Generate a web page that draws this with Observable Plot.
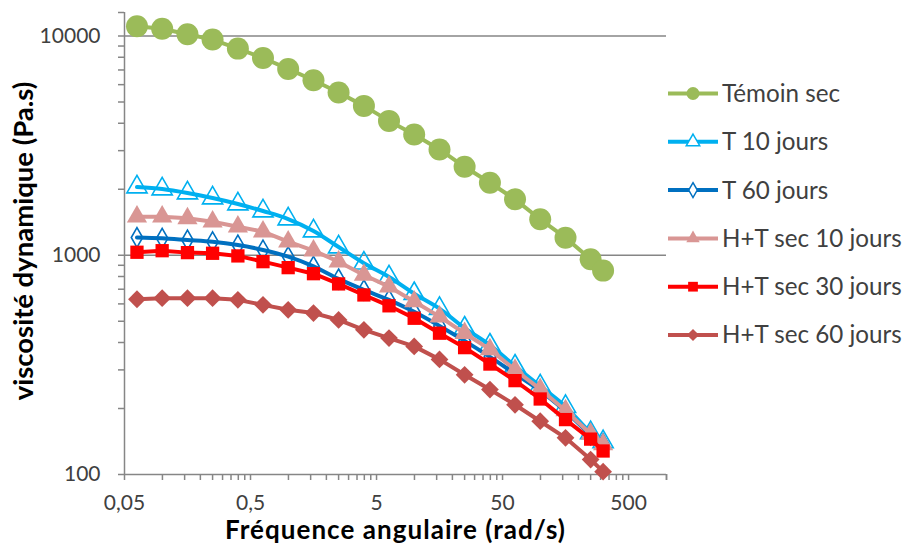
<!DOCTYPE html>
<html>
<head>
<meta charset="utf-8">
<script src="https://cdn.jsdelivr.net/npm/d3@7"></script>
<script src="https://cdn.jsdelivr.net/npm/@observablehq/plot@0.6"></script>
<style>
  html, body { margin: 0; padding: 0; background: #fff; }
  #chart svg { display: block; }
</style>
</head>
<body>
<div id="chart"></div>
<script>
// ---- data ----
const freq = [0.0628, 0.0995, 0.158, 0.250, 0.397, 0.628, 0.995, 1.58, 2.50, 3.97,
              6.28, 9.95, 15.8, 25.0, 39.7, 62.8, 99.5, 158, 250, 314];
const temoinSec = [11070, 10800, 10180, 9630, 8760, 7940, 7075, 6285, 5525, 4800,
                   4100, 3556, 3039, 2532, 2141, 1799, 1459, 1203, 959, 851];
const t10 = [2047, 2004, 1922, 1824, 1713, 1591, 1463, 1290, 1090, 920,
             796, 668, 571, 465, 389, 312, 253, 204, 155, 141];
const t60 = [1205, 1195, 1174, 1153, 1114, 1057, 985, 890, 780, 695,
             626, 552, 476, 407, 344, 288, 241, 194, 152, 138];
const ht10 = [1499, 1499, 1474, 1422, 1349, 1281, 1153, 1050, 935, 813,
              719, 615, 525, 441, 372, 300, 245, 196, 153, 137];
const ht30 = [1032, 1049, 1028, 1021, 993, 935, 878, 824, 740, 659,
              588, 516, 441, 379, 319, 268, 221, 178, 145, 128];
const ht60 = [630, 637, 637, 637, 626, 594, 564, 545, 507, 457,
              419, 384, 335, 285, 244, 208, 175, 147, 117, 103];

const seriesNames = ["Témoin sec", "T 10 jours", "T 60 jours",
                     "H+T sec 10 jours", "H+T sec 30 jours", "H+T sec 60 jours"];
const seriesValues = [temoinSec, t10, t60, ht10, ht30, ht60];

const xTicks = [0.05, 0.5, 5, 50, 500];
const xTickLabels = ["0,05", "0,5", "5", "50", "500"];
const yTicks = [100, 1000, 10000];
const yTickLabels = ["100", "1000", "10000"];
const xTitle = "Fréquence angulaire (rad/s)";
const yTitle = "viscosité dynamique (Pa.s)";

// ---- styles ----
const colors = ["#9BBB59", "#00B0F0", "#0070C0", "#D99694", "#FF0000", "#C0504D"];
const symbols = ["circle", "triangle", "diamond", "triangle", "square", "diamond2"];
const filled = [true, false, false, true, true, true];
const radii = [11, 7.5, 6, 7.5, 7.5, 8];
const curves = ["linear", "catmull-rom", "catmull-rom", "linear", "linear", "linear"];
const axisGray = "#868686";
const textColor = "#404040";

const xDomain = [0.05, 1000];
const yDomain = [100, 12800];

// minor ticks (Excel-style multiples of each decade start)
const xAllTicks = [];
xTicks.forEach(d => { for (let k = 1; k <= 9; k++) { const v = +(d * k).toPrecision(6); if (v <= xDomain[1]) xAllTicks.push(v); } });
xAllTicks.push(xDomain[1]);
const yAllTicks = [];
yTicks.forEach(d => { for (let k = 1; k <= 9; k++) { const v = d * k; if (v <= yDomain[1]) yAllTicks.push(v); } });
yAllTicks.push(yDomain[1]);

const xLabelMap = new Map(xTicks.map((d, i) => [d, xTickLabels[i]]));
const yLabelMap = new Map(yTicks.map((d, i) => [d, yTickLabels[i]]));

const rows = seriesNames.map((name, s) => freq.map((f, i) => ({series: name, f, v: seriesValues[s][i]})));

const marks = [
  Plot.ruleY([1000, 10000], {stroke: axisGray, strokeWidth: 1.5}),
  Plot.ruleX([xDomain[0]], {stroke: axisGray, strokeWidth: 1.5}),
  Plot.ruleY([yDomain[0]], {stroke: axisGray, strokeWidth: 1.5}),
  Plot.axisX(xAllTicks, {tickSize: 6, stroke: axisGray, strokeWidth: 1.5, fill: "none", tickFormat: () => "", label: null}),
  Plot.axisY(yAllTicks, {tickSize: 6, stroke: axisGray, strokeWidth: 1.5, fill: "none", tickFormat: () => "", label: null}),
  Plot.text(xTicks, {x: d => d, text: d => xLabelMap.get(d), frameAnchor: "bottom", dy: 29, lineAnchor: "middle", fill: textColor, fontSize: 21}),
  Plot.text(yTicks, {y: d => d, text: d => yLabelMap.get(d), frameAnchor: "left", dx: -24, textAnchor: "end", lineAnchor: "middle", fill: textColor, fontSize: 21})
];
rows.forEach((data, s) => {
  marks.push(Plot.line(data, {x: "f", y: "v", stroke: colors[s], strokeWidth: 4, curve: curves[s]}));
  marks.push(Plot.dot(data, {
    x: "f", y: "v", symbol: () => symbols[s], r: radii[s],
    fill: filled[s] ? colors[s] : "none",
    stroke: filled[s] ? "none" : colors[s], strokeWidth: 1.6
  }));
});

const chart = Plot.plot({
  width: 906,
  height: 544,
  marginLeft: 124,
  marginRight: 240,
  marginTop: 12,
  marginBottom: 70,
  x: {type: "log", domain: xDomain},
  y: {type: "log", domain: yDomain},
  symbol: {type: "identity"},
  style: {fontFamily: "Lato, 'Open Sans', sans-serif", fontSize: "21px", background: "white", color: textColor},
  marks
});
document.getElementById("chart").appendChild(chart);

// ---- titles and legend, added into the same SVG ----
const svg = d3.select(chart);
svg.append("text")
  .attr("x", 395).attr("y", 539)
  .attr("text-anchor", "middle")
  .attr("font-weight", "bold").attr("font-size", 26)
  .attr("textLength", 340).attr("lengthAdjust", "spacing")
  .attr("fill", "#000")
  .text(xTitle);
svg.append("text")
  .attr("transform", "translate(33,241) rotate(-90)")
  .attr("text-anchor", "middle")
  .attr("font-weight", "bold").attr("font-size", 27.5)
  .attr("fill", "#000")
  .text(yTitle);

const d3Symbols = {circle: d3.symbolCircle, triangle: d3.symbolTriangle, diamond: d3.symbolDiamond, diamond2: d3.symbolDiamond2, square: d3.symbolSquare};
const legendR = [6.5, 5, 4.5, 5, 5.5, 5.5];
const lg = svg.append("g");
seriesNames.forEach((name, i) => {
  const y = 93.5 + i * 48.3;
  lg.append("line").attr("x1", 668).attr("x2", 718).attr("y1", y).attr("y2", y)
    .attr("stroke", colors[i]).attr("stroke-width", 4);
  lg.append("path")
    .attr("d", d3.symbol(d3Symbols[symbols[i]], Math.PI * legendR[i] * legendR[i])())
    .attr("transform", `translate(693,${y})`)
    .attr("fill", filled[i] ? colors[i] : "white")
    .attr("stroke", filled[i] ? "none" : colors[i]).attr("stroke-width", 1.5);
  lg.append("text").attr("x", 722).attr("y", y).attr("dy", "0.35em")
    .attr("text-anchor", "start")
    .attr("font-size", 24.2).attr("fill", textColor)
    .text(name);
});
</script>
</body>
</html>
